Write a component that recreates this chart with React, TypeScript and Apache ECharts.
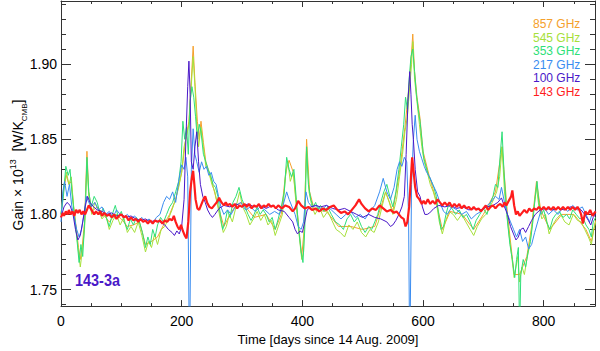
import React, { useEffect, useRef } from "react";
import * as echarts from "echarts";

// ---------- data (day, gain) ----------
const gain857: [number, number][] = [
  [0,1.800],[5,1.818],[9,1.826],[13,1.820],[17,1.822],[21,1.805],[25,1.792],[29,1.778],[32,1.770],[35,1.778],[39,1.795],[43,1.842],[46,1.815],[51,1.802],[60,1.805],[70,1.800],[80,1.795],[90,1.800],[100,1.797],[110,1.792],[120,1.793],[130,1.795],[140,1.780],[150,1.782],[160,1.785],[170,1.793],[180,1.800],[190,1.810],[200,1.828],[206,1.848],[212,1.862],[216,1.890],[219,1.912],[222,1.888],[226,1.862],[229,1.850],[232,1.862],[236,1.848],[240,1.835],[250,1.822],[260,1.806],[270,1.792],[280,1.800],[290,1.806],[300,1.808],[320,1.798],[340,1.800],[355,1.790],[365,1.800],[373,1.830],[378,1.836],[385,1.828],[392,1.800],[399,1.772],[403,1.790],[407,1.850],[412,1.815],[420,1.803],[440,1.802],[460,1.792],[480,1.792],[500,1.790],[520,1.792],[538,1.815],[550,1.802],[561,1.828],[570,1.858],[578,1.890],[583,1.920],[586,1.895],[590,1.878],[595,1.864],[600,1.842],[610,1.826],[620,1.812],[632,1.790],[645,1.802],[665,1.800],[684,1.790],[700,1.800],[720,1.815],[731,1.845],[740,1.800],[751,1.760],[760,1.760],[772,1.772],[780,1.792],[788,1.822],[795,1.803],[810,1.790],[830,1.800],[850,1.800],[870,1.790],[879,1.782],[886,1.796]
];

const gain545: [number, number][] = [
  [0,1.800],[5,1.820],[9,1.828],[13,1.820],[17,1.825],[21,1.805],[25,1.790],[29,1.775],[32,1.765],[35,1.775],[39,1.790],[43,1.835],[46,1.812],[51,1.800],[56,1.808],[62,1.803],[68,1.797],[74,1.800],[80,1.790],[86,1.796],[92,1.800],[98,1.793],[104,1.798],[110,1.788],[116,1.792],[122,1.788],[128,1.795],[134,1.786],[140,1.775],[145,1.782],[150,1.778],[155,1.787],[160,1.780],[166,1.790],[172,1.792],[178,1.797],[184,1.803],[190,1.810],[195,1.818],[200,1.828],[204,1.845],[208,1.852],[212,1.860],[215,1.880],[219,1.905],[222,1.885],[225,1.860],[228,1.845],[232,1.858],[236,1.845],[240,1.832],[245,1.828],[250,1.820],[255,1.815],[260,1.805],[265,1.795],[269,1.788],[274,1.792],[279,1.800],[284,1.795],[290,1.805],[296,1.815],[301,1.805],[307,1.800],[313,1.793],[319,1.797],[325,1.802],[331,1.796],[337,1.800],[343,1.793],[349,1.796],[355,1.786],[361,1.793],[367,1.800],[372,1.825],[376,1.835],[380,1.822],[385,1.828],[390,1.805],[395,1.785],[399,1.770],[402,1.775],[405,1.820],[407,1.845],[411,1.815],[416,1.805],[421,1.800],[428,1.805],[435,1.798],[442,1.802],[449,1.796],[456,1.790],[463,1.788],[470,1.785],[477,1.793],[484,1.790],[491,1.795],[498,1.788],[505,1.785],[512,1.790],[519,1.788],[526,1.795],[532,1.805],[538,1.815],[544,1.808],[550,1.800],[556,1.810],[561,1.825],[566,1.840],[570,1.855],[574,1.865],[578,1.885],[581,1.900],[583,1.915],[586,1.890],[590,1.875],[594,1.860],[598,1.845],[602,1.835],[607,1.828],[612,1.820],[617,1.815],[622,1.808],[627,1.795],[632,1.787],[637,1.795],[643,1.802],[650,1.800],[657,1.796],[664,1.800],[671,1.795],[678,1.790],[684,1.786],[690,1.792],[697,1.797],[704,1.800],[711,1.805],[717,1.810],[722,1.815],[727,1.825],[731,1.845],[735,1.815],[739,1.800],[743,1.785],[747,1.772],[751,1.758],[754,1.765],[757,1.772],[760,1.755],[764,1.765],[768,1.760],[772,1.770],[776,1.778],[780,1.790],[784,1.805],[788,1.818],[792,1.805],[797,1.797],[803,1.800],[809,1.787],[815,1.793],[821,1.797],[828,1.800],[835,1.795],[842,1.793],[849,1.800],[856,1.796],[862,1.795],[868,1.790],[874,1.785],[879,1.780],[883,1.790],[886,1.795]
];

const gain353: [number, number][] = [
  [0,1.800],[4,1.812],[8,1.832],[12,1.826],[15,1.830],[18,1.815],[22,1.800],[26,1.785],[30,1.768],[33,1.780],[36,1.772],[40,1.800],[43,1.838],[46,1.815],[50,1.805],[55,1.812],[60,1.808],[65,1.800],[70,1.804],[75,1.798],[80,1.792],[85,1.800],[90,1.806],[95,1.798],[100,1.802],[105,1.795],[110,1.790],[115,1.797],[120,1.793],[125,1.798],[130,1.795],[135,1.788],[140,1.778],[144,1.785],[148,1.780],[152,1.790],[156,1.785],[160,1.793],[165,1.798],[170,1.795],[175,1.800],[180,1.805],[185,1.808],[190,1.815],[195,1.822],[199,1.835],[202,1.862],[205,1.850],[208,1.858],[211,1.840],[214,1.875],[217,1.885],[220,1.878],[223,1.865],[226,1.850],[229,1.860],[232,1.855],[236,1.840],[240,1.835],[244,1.830],[248,1.826],[252,1.820],[256,1.818],[260,1.812],[264,1.800],[268,1.790],[272,1.795],[276,1.803],[280,1.798],[285,1.808],[290,1.812],[295,1.818],[300,1.810],[305,1.805],[310,1.800],[315,1.796],[320,1.800],[325,1.805],[330,1.800],[335,1.803],[340,1.800],[345,1.795],[350,1.798],[355,1.790],[360,1.797],[365,1.805],[370,1.815],[374,1.838],[378,1.830],[382,1.825],[386,1.830],[390,1.810],[394,1.790],[398,1.775],[401,1.768],[404,1.790],[407,1.845],[410,1.820],[414,1.810],[418,1.805],[422,1.808],[426,1.803],[430,1.806],[436,1.802],[442,1.805],[448,1.800],[455,1.795],[462,1.793],[468,1.790],[474,1.797],[480,1.800],[486,1.795],[492,1.798],[498,1.792],[504,1.788],[510,1.792],[515,1.790],[520,1.795],[525,1.800],[530,1.808],[535,1.815],[540,1.820],[545,1.812],[550,1.805],[555,1.815],[560,1.830],[564,1.845],[568,1.860],[571,1.878],[574,1.870],[577,1.890],[580,1.905],[583,1.910],[586,1.895],[589,1.880],[592,1.870],[595,1.862],[598,1.850],[601,1.838],[605,1.832],[609,1.826],[614,1.822],[618,1.818],[622,1.812],[626,1.800],[630,1.790],[634,1.792],[638,1.800],[642,1.806],[648,1.804],[654,1.800],[660,1.803],[666,1.798],[672,1.800],[678,1.795],[683,1.790],[688,1.796],[694,1.800],[700,1.804],[706,1.800],[712,1.808],[716,1.812],[720,1.820],[724,1.818],[728,1.840],[731,1.855],[734,1.830],[737,1.810],[740,1.795],[744,1.780],[748,1.770],[752,1.758],[755,1.770],[758,1.778],[760,1.720],[762,1.760],[766,1.770],[770,1.765],[774,1.775],[778,1.782],[782,1.795],[786,1.812],[789,1.822],[792,1.808],[796,1.800],[800,1.803],[805,1.795],[810,1.790],[815,1.797],[820,1.800],[826,1.802],[832,1.798],[838,1.800],[843,1.797],[848,1.803],[854,1.800],[860,1.797],[865,1.798],[870,1.793],[875,1.790],[879,1.785],[882,1.795],[886,1.798]
];

const gain217: [number, number][] = [
  [0,1.795],[3,1.815],[6,1.822],[10,1.812],[14,1.820],[18,1.805],[22,1.798],[26,1.790],[30,1.785],[34,1.790],[38,1.800],[42,1.812],[46,1.808],[50,1.805],[56,1.808],[62,1.803],[68,1.805],[74,1.800],[80,1.802],[86,1.798],[92,1.803],[98,1.800],[104,1.798],[110,1.800],[116,1.797],[122,1.799],[128,1.796],[134,1.798],[140,1.795],[146,1.797],[152,1.794],[158,1.798],[164,1.800],[170,1.808],[175,1.812],[180,1.810],[185,1.815],[190,1.808],[195,1.822],[200,1.833],[204,1.830],[207,1.838],[210,1.825],[213,1.700],[216,1.830],[219,1.857],[222,1.840],[225,1.835],[229,1.828],[233,1.835],[237,1.830],[241,1.832],[245,1.826],[249,1.828],[253,1.822],[257,1.820],[261,1.812],[265,1.805],[270,1.800],[276,1.803],[282,1.800],[290,1.806],[298,1.808],[306,1.803],[314,1.805],[322,1.802],[330,1.805],[338,1.803],[346,1.800],[354,1.802],[362,1.800],[368,1.806],[374,1.815],[378,1.810],[383,1.805],[388,1.800],[393,1.792],[398,1.790],[402,1.795],[406,1.815],[410,1.808],[416,1.805],[424,1.806],[432,1.803],[440,1.806],[448,1.803],[456,1.800],[464,1.797],[472,1.800],[480,1.802],[488,1.798],[496,1.800],[504,1.797],[512,1.802],[520,1.806],[528,1.815],[534,1.824],[540,1.815],[546,1.810],[552,1.818],[557,1.830],[561,1.835],[565,1.832],[569,1.838],[573,1.835],[576,1.800],[578,1.700],[581,1.820],[584,1.850],[587,1.866],[590,1.850],[594,1.842],[598,1.837],[602,1.832],[606,1.828],[611,1.825],[616,1.820],[622,1.815],[628,1.808],[634,1.802],[640,1.800],[648,1.805],[656,1.803],[664,1.800],[672,1.802],[680,1.797],[688,1.800],[696,1.802],[704,1.805],[712,1.808],[720,1.812],[726,1.810],[730,1.818],[735,1.808],[740,1.800],[745,1.795],[750,1.790],[755,1.785],[760,1.790],[765,1.782],[770,1.785],[775,1.777],[780,1.780],[785,1.788],[790,1.795],[795,1.802],[800,1.805],[808,1.800],[816,1.803],[824,1.800],[832,1.805],[840,1.802],[848,1.806],[856,1.803],[864,1.805],[870,1.800],[876,1.795],[880,1.800],[886,1.802]
];

const gain100: [number, number][] = [
  [0,1.798],[5,1.805],[10,1.808],[15,1.806],[20,1.800],[24,1.790],[28,1.783],[32,1.786],[36,1.795],[40,1.805],[44,1.812],[48,1.808],[54,1.805],[60,1.803],[68,1.802],[76,1.800],[84,1.801],[92,1.799],[100,1.800],[108,1.798],[116,1.799],[124,1.797],[132,1.796],[140,1.797],[148,1.795],[156,1.796],[164,1.795],[172,1.793],[178,1.790],[184,1.788],[188,1.786],[192,1.789],[196,1.787],[200,1.792],[204,1.810],[207,1.850],[210,1.885],[212,1.902],[214,1.880],[216,1.835],[219,1.830],[222,1.845],[225,1.855],[228,1.835],[231,1.820],[235,1.812],[239,1.808],[243,1.803],[247,1.800],[251,1.798],[255,1.800],[262,1.804],[270,1.806],[280,1.805],[290,1.807],[300,1.805],[310,1.807],[320,1.805],[330,1.806],[340,1.804],[350,1.806],[360,1.803],[370,1.802],[378,1.798],[384,1.795],[388,1.790],[392,1.787],[396,1.789],[400,1.788],[404,1.795],[408,1.803],[414,1.805],[422,1.806],[430,1.805],[440,1.806],[450,1.804],[460,1.803],[470,1.804],[480,1.802],[490,1.800],[500,1.798],[510,1.800],[520,1.798],[530,1.797],[540,1.795],[546,1.792],[550,1.793],[555,1.796],[560,1.800],[565,1.805],[569,1.812],[572,1.840],[575,1.875],[578,1.895],[580,1.880],[582,1.860],[584,1.850],[587,1.830],[591,1.815],[595,1.812],[599,1.805],[603,1.800],[607,1.800],[611,1.801],[618,1.804],[626,1.806],[636,1.805],[646,1.806],[656,1.804],[666,1.805],[676,1.803],[686,1.804],[696,1.803],[706,1.805],[716,1.806],[724,1.808],[730,1.811],[735,1.805],[740,1.800],[745,1.792],[750,1.787],[754,1.783],[758,1.785],[762,1.790],[766,1.791],[770,1.788],[775,1.792],[780,1.796],[786,1.800],[794,1.803],[804,1.804],[814,1.803],[824,1.804],[834,1.803],[844,1.805],[854,1.804],[862,1.803],[868,1.800],[874,1.796],[878,1.793],[882,1.798],[886,1.800]
];

const gain143: [number, number][] = [
  [0,1.798],[3,1.801],[5,1.799],[8,1.802],[11,1.800],[13,1.803],[16,1.800],[19,1.802],[22,1.799],[25,1.803],[28,1.801],[31,1.803],[34,1.800],[37,1.802],[40,1.800],[43,1.803],[46,1.806],[49,1.804],[52,1.802],[55,1.800],[58,1.802],[62,1.800],[65,1.802],[68,1.799],[72,1.801],[76,1.799],[80,1.800],[84,1.798],[88,1.800],[92,1.797],[96,1.799],[100,1.800],[104,1.798],[108,1.799],[112,1.796],[116,1.798],[120,1.796],[124,1.797],[128,1.795],[132,1.797],[136,1.795],[140,1.796],[144,1.794],[148,1.796],[152,1.794],[156,1.796],[160,1.795],[164,1.796],[168,1.794],[172,1.796],[176,1.795],[180,1.797],[184,1.796],[187,1.799],[190,1.795],[193,1.792],[196,1.790],[199,1.793],[202,1.789],[205,1.786],[208,1.784],[211,1.795],[214,1.815],[217,1.825],[219,1.829],[221,1.820],[223,1.810],[226,1.804],[229,1.803],[232,1.806],[236,1.810],[239,1.812],[242,1.808],[246,1.805],[250,1.804],[254,1.806],[258,1.808],[262,1.811],[266,1.808],[270,1.806],[273,1.808],[276,1.806],[280,1.807],[284,1.805],[288,1.807],[292,1.804],[296,1.806],[300,1.805],[304,1.807],[308,1.805],[312,1.807],[316,1.804],[320,1.806],[324,1.805],[328,1.807],[332,1.804],[336,1.806],[340,1.805],[344,1.807],[348,1.805],[352,1.806],[356,1.804],[360,1.806],[366,1.804],[372,1.806],[378,1.805],[384,1.802],[388,1.804],[393,1.809],[398,1.806],[404,1.804],[410,1.805],[416,1.803],[422,1.804],[428,1.802],[434,1.804],[440,1.803],[446,1.805],[452,1.806],[458,1.803],[464,1.801],[470,1.802],[476,1.800],[482,1.803],[488,1.806],[494,1.810],[498,1.807],[504,1.804],[510,1.802],[516,1.804],[522,1.803],[528,1.806],[534,1.804],[540,1.802],[546,1.803],[552,1.801],[556,1.802],[560,1.800],[564,1.798],[568,1.797],[571,1.792],[574,1.795],[577,1.805],[580,1.825],[582,1.838],[584,1.830],[587,1.818],[590,1.812],[594,1.810],[598,1.807],[601,1.809],[604,1.807],[608,1.810],[612,1.807],[616,1.809],[620,1.807],[624,1.810],[628,1.808],[632,1.806],[636,1.808],[640,1.806],[644,1.808],[648,1.805],[652,1.807],[656,1.805],[660,1.807],[664,1.804],[668,1.806],[672,1.804],[676,1.805],[680,1.803],[684,1.805],[688,1.803],[692,1.804],[696,1.802],[700,1.804],[704,1.806],[708,1.803],[712,1.805],[716,1.806],[720,1.804],[724,1.806],[728,1.807],[732,1.805],[735,1.808],[738,1.806],[742,1.809],[746,1.812],[748,1.816],[751,1.806],[754,1.800],[757,1.802],[760,1.799],[764,1.801],[768,1.803],[772,1.801],[776,1.804],[780,1.802],[784,1.804],[788,1.803],[792,1.805],[796,1.803],[800,1.805],[804,1.803],[808,1.805],[812,1.803],[816,1.805],[820,1.803],[824,1.805],[828,1.803],[832,1.805],[836,1.803],[840,1.805],[844,1.803],[848,1.805],[852,1.803],[856,1.805],[859,1.803],[862,1.800],[865,1.794],[867,1.798],[869,1.802],[873,1.800],[877,1.803],[881,1.799],[886,1.802]
];

const bandNames = ["857 GHz", "545 GHz", "353 GHz", "217 GHz", "100 GHz", "143 GHz"];
const bandColors = ["#f5a02c", "#a6e03a", "#2edf78", "#3a8cf0", "#4a18c8", "#ff1c1c"];
const bandData = [gain857, gain545, gain353, gain217, gain100, gain143];
const bandWidths = [1, 1, 1, 1, 1, 2.2];

const xMin = 0;
const xMax = 885;
const yMin = 1.739;
const yMax = 1.942;
const detectorLabel = "143-3a";
const xTitle = "Time [days since 14 Aug. 2009]";

const FONT = "'Liberation Sans', Arial, Helvetica, sans-serif";
const AX = "#333";

export default function App() {
  const ref = useRef<HTMLDivElement>(null);
  useEffect(() => {
    if (!ref.current) return;
    const chart = echarts.init(ref.current, undefined, { renderer: "svg" });

    const xCommon = {
      type: "value" as const,
      min: xMin,
      max: xMax,
      interval: 200,
      axisLine: { show: true, onZero: false, lineStyle: { color: AX, width: 1 } },
      axisTick: { show: true, inside: true, length: 6, lineStyle: { color: AX, width: 1 } },
      minorTick: { show: true, splitNumber: 4, length: 3, lineStyle: { color: AX, width: 1 } },
      splitLine: { show: false },
      minorSplitLine: { show: false },
    };
    const yCommon = {
      type: "value" as const,
      min: yMin,
      max: yMax,
      splitNumber: 4,
      axisLine: { show: true, onZero: false, lineStyle: { color: AX, width: 1 } },
      axisTick: { show: true, inside: true, length: 10, lineStyle: { color: AX, width: 1 } },
      minorTick: { show: true, splitNumber: 5, length: 5, lineStyle: { color: AX, width: 1 } },
      splitLine: { show: false },
      minorSplitLine: { show: false },
    };

    const legendGraphics = bandNames.map((name, i) => ({
      type: "text",
      x: 533,
      y: 24 + i * 13.6,
      style: {
        text: name,
        fill: bandColors[i],
        font: `12px ${FONT}`,
        textAlign: "left",
        textVerticalAlign: "middle",
      },
      z: 100,
    }));

    chart.setOption({
      animation: false,
      backgroundColor: "#ffffff",
      grid: { left: 61, right: 5, top: 1, bottom: 42, containLabel: false },
      xAxis: [
        {
          ...xCommon,
          position: "bottom",
          axisLabel: {
            formatter: (v: number) => (Math.abs(v % 200) < 1e-6 ? String(v) : ""),
            color: "#000",
            fontSize: 14,
            fontFamily: FONT,
            margin: 8,
          },
          name: xTitle,
          nameLocation: "middle",
          nameGap: 22,
          nameTextStyle: { color: "#000", fontSize: 13, fontFamily: FONT, verticalAlign: "top" },
        },
        { ...xCommon, position: "top", axisLabel: { show: false } },
      ],
      yAxis: [
        {
          ...yCommon,
          position: "left",
          axisLabel: {
            formatter: (v: number) => {
              const k = v * 20;
              return Math.abs(k - Math.round(k)) < 1e-6 ? v.toFixed(2) : "";
            },
            color: "#000",
            fontSize: 14,
            fontFamily: FONT,
            margin: 4,
          },
        },
        { ...yCommon, position: "right", axisLabel: { show: false } },
      ],
      series: bandNames.map((name, i) => ({
        name,
        type: "line",
        xAxisIndex: 0,
        yAxisIndex: 0,
        data: bandData[i],
        showSymbol: false,
        symbol: "none",
        clip: true,
        z: 2 + i,
        lineStyle: { color: bandColors[i], width: bandWidths[i] },
        itemStyle: { color: bandColors[i] },
      })),
      graphic: [
        ...legendGraphics,
        {
          type: "text",
          x: 75,
          y: 280,
          scaleX: 0.85,
          style: {
            text: detectorLabel,
            fill: "#4a18c8",
            font: `bold 17px ${FONT}`,
            textAlign: "left",
            textVerticalAlign: "middle",
          },
          z: 100,
        },
        {
          type: "text",
          x: 18,
          y: 165,
          rotation: Math.PI / 2,
          style: {
            text: "{a|Gain × 10}{sup|13}{a|  [W/K}{sub|CMB}{a|]}",
            fill: "#000",
            textAlign: "center",
            textVerticalAlign: "middle",
            rich: {
              a: { fontSize: 14, fontFamily: FONT, lineHeight: 20, fill: "#000" },
              sup: { fontSize: 9, fontFamily: FONT, verticalAlign: "top", fill: "#000" },
              sub: { fontSize: 8, fontFamily: FONT, verticalAlign: "bottom", fill: "#000" },
            },
          },
          z: 100,
        },
      ],
    });
    return () => chart.dispose();
  }, []);

  return (
    <div
      ref={ref}
      style={{ position: "fixed", left: 0, top: 0, width: 600, height: 351, background: "#fff" }}
    />
  );
}
